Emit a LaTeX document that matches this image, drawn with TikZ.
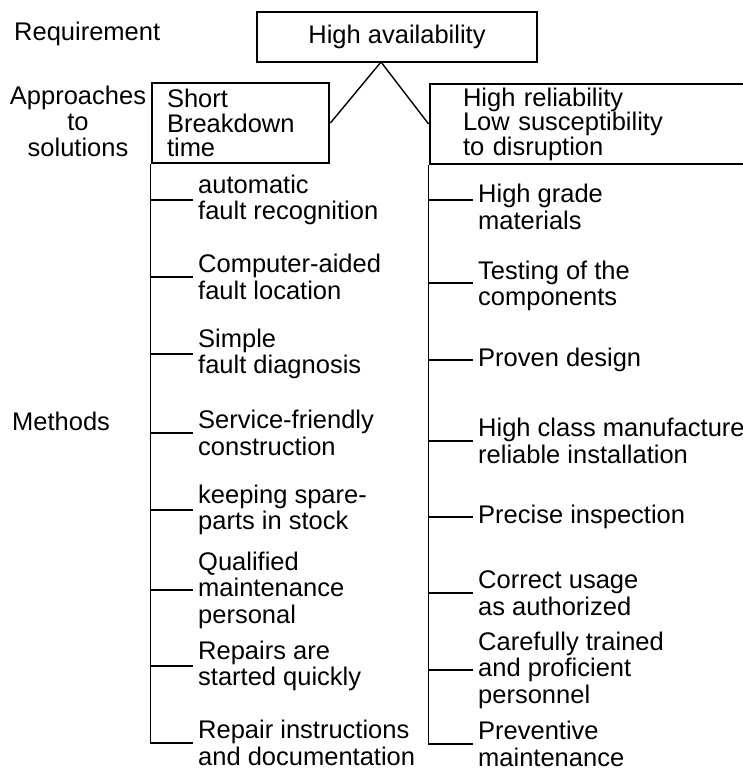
\documentclass[tikz,border=0pt]{standalone}
\usepackage{fontspec}
\setmainfont{Liberation Sans}
\tikzset{>=latex}
\tikzset{
  boxed/.style={draw, line width=2.8pt, inner ysep=0pt, align=left,
    font=\fontsize{25.5}{24.5}\selectfont},
  method/.style={anchor=west, align=left, inner xsep=5pt, inner ysep=0pt},
  branch/.style={line width=1.4pt},
}

\begin{document}
\begin{tikzpicture}[x=1pt,y=-1pt,font=\fontsize{25.5}{26.5}\selectfont]
  \useasboundingbox (0,0) rectangle (742,771);
  % requirement
  \node[anchor=base west, inner sep=0pt] (req) at (14,40) {Requirement};
  \node[boxed, minimum width=280pt, minimum height=50pt, align=center] (avail) at (397,37) {High availability};
  \coordinate (apex) at (381,62);
  % approaches to solutions
  \node[align=center, inner sep=0pt, font=\fontsize{25.5}{26}\selectfont] (appr) at (78,121) {Approaches\\to\\solutions};
  \node[boxed, text width=147pt, inner xsep=15pt, minimum height=80pt] (short) at (240.5,123) {Short\\Breakdown\\time};
  \node[boxed, text width=280pt, inner xsep=33pt, minimum height=80pt] (rel) at (603,124) {High reliability\\Low susceptibility\\to disruption};
  \draw[branch] (apex) -- (short.east);
  \draw[branch] (apex) -- (rel.west);
  % methods
  \node[anchor=base west, inner sep=0pt] (meth) at (12,430) {Methods};
  \foreach \y/\txt [count=\i] in {200/{automatic\\fault recognition},
      277/{Computer-aided\\fault location},
      354/{Simple\\fault diagnosis},
      433/{Service-friendly\\construction},
      510/{keeping spare-\\parts in stock},
      590/{Qualified\\maintenance\\personal},
      666/{Repairs are\\started quickly},
      743/{Repair instructions\\and documentation}}
    \node[method] (l\i) at (193,\y) {\txt};
  \foreach \y/\txt [count=\i] in {207/{High grade\\materials},
      286/{Testing of the\\components},
      360/{Proven design},
      441/{High class manufacture\\reliable installation},
      517/{Precise inspection},
      593/{Correct usage\\as authorized},
      670/{Carefully trained\\and proficient\\personnel},
      744/{Preventive\\maintenance}}
    \node[method] (r\i) at (473,\y) {\txt};
  \coordinate (r1tip) at ([yshift=7pt]r1.west);
  \coordinate (r2tip) at ([yshift=3pt]r2.west);
  \draw[branch] (short.south west) |- (l8.west);
  \foreach \i in {1,...,7}
    \draw[branch] (short.south west |- l\i.west) -- (l\i.west);
  \draw[branch] (rel.south west) |- (r8.west);
  \draw[branch] (rel.south west |- r1tip) -- (r1tip);
  \draw[branch] (rel.south west |- r2tip) -- (r2tip);
  \foreach \i in {3,...,7}
    \draw[branch] (rel.south west |- r\i.west) -- (r\i.west);
\end{tikzpicture}
\end{document}
